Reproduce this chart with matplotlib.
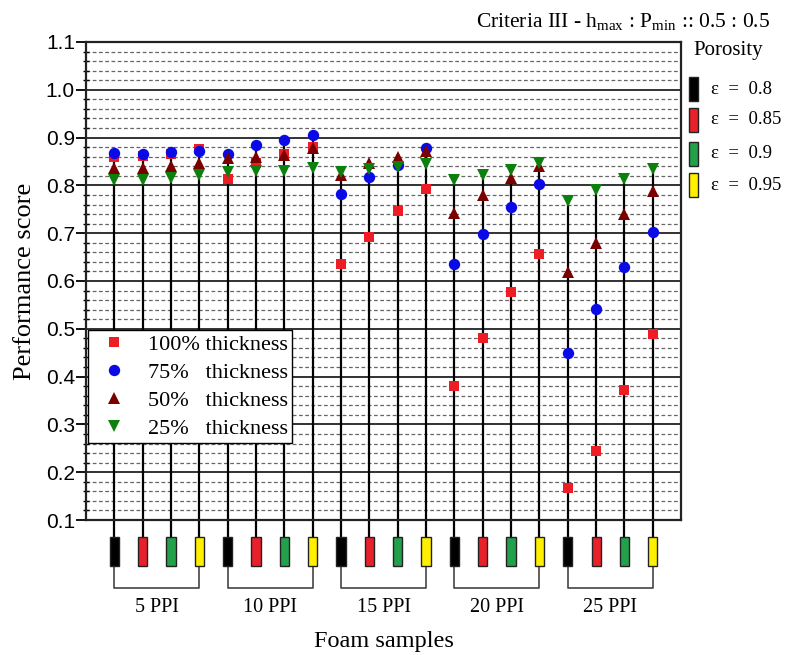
import matplotlib
matplotlib.use("Agg")
import matplotlib.pyplot as plt
import matplotlib.transforms as mtransforms
from matplotlib.patches import Rectangle
from matplotlib.lines import Line2D
from matplotlib.ticker import MultipleLocator

plt.rcParams['font.family'] = ['Liberation Serif', 'DejaVu Serif']
plt.rcParams['mathtext.fontset'] = 'custom'
plt.rcParams['mathtext.rm'] = 'Liberation Serif'
plt.rcParams['mathtext.it'] = 'Liberation Serif:italic'

# foam samples: 5 pore densities x 4 porosities
ppi_labels = ['5 PPI', '10 PPI', '15 PPI', '20 PPI', '25 PPI']
porosity_labels = ['ε  =  0.8', 'ε  =  0.85', 'ε  =  0.9', 'ε  =  0.95']
porosity_colors = ['#000000', '#e8202a', '#23a04a', '#fff000']

# performance score per sample, one list per thickness
t100 = [0.860, 0.862, 0.866, 0.877, 0.814, 0.846, 0.865, 0.881, 0.636, 0.693,
        0.747, 0.792, 0.381, 0.480, 0.576, 0.656, 0.166, 0.244, 0.372, 0.489]
t75 = [0.867, 0.866, 0.869, 0.871, 0.866, 0.885, 0.896, 0.905, 0.782, 0.818,
       0.843, 0.879, 0.636, 0.698, 0.755, 0.803, 0.449, 0.541, 0.630, 0.702]
t50 = [0.836, 0.837, 0.841, 0.846, 0.857, 0.860, 0.864, 0.878, 0.822, 0.846,
       0.860, 0.871, 0.742, 0.780, 0.815, 0.841, 0.618, 0.680, 0.740, 0.789]
t25 = [0.811, 0.812, 0.816, 0.821, 0.829, 0.831, 0.831, 0.836, 0.829, 0.834,
       0.838, 0.845, 0.811, 0.822, 0.832, 0.847, 0.767, 0.790, 0.813, 0.834]

series = [
    ('100% thickness', t100, 's', '#ee1c24', 7),
    ('75%   thickness', t75, 'o', '#0a0ae6', 8.2),
    ('50%   thickness', t50, '^', '#7a0000', 9),
    ('25%   thickness', t25, 'v', '#0c800c', 9),
]

xs = list(range(1, len(t100) + 1))

fig = plt.figure(figsize=(7.92, 6.55), dpi=100)
ax = fig.add_axes([0.1086, 0.2061, 0.7513, 0.7298])

ax.set_xlim(0, 21)
ax.set_ylim(0.1, 1.1)
ax.yaxis.set_major_locator(MultipleLocator(0.1))
ax.yaxis.set_minor_locator(MultipleLocator(0.02))
ax.grid(which='major', axis='y', color='#222222', lw=1.3, zorder=0)
ax.grid(which='minor', axis='y', color='#666666', ls=(0, (3, 2)), lw=0.9, zorder=0)
ax.set_axisbelow(True)

ax.set_xticks([])
ax.tick_params(axis='y', which='major', direction='out', length=7, width=1.3,
               labelsize=15, pad=1)
ax.tick_params(axis='y', which='minor', direction='inout', length=5, width=1.0)
for lab in ax.get_yticklabels():
    lab.set_family(['Liberation Sans', 'DejaVu Sans'])
for sp in ax.spines.values():
    sp.set_linewidth(1.6)
    sp.set_color('#222222')

# stems from the top marker down to the sample tags below the axis
trans = mtransforms.blended_transform_factory(ax.transData, ax.transAxes)
tag_top, tag_bot, brk_y = -0.036, -0.096, -0.142
for i, x in enumerate(xs):
    top = max(t100[i], t75[i], t50[i], t25[i])
    ytop = (top - 0.1) / 1.0
    ax.plot([x, x], [ytop, tag_top], transform=trans, color='black', lw=1.6,
            clip_on=False, zorder=2)
    ax.add_patch(Rectangle((x - 0.16, tag_bot), 0.32, tag_top - tag_bot,
                           transform=trans, facecolor=porosity_colors[i % 4],
                           edgecolor='#222222', lw=1.0, clip_on=False, zorder=3))

# brackets grouping each PPI
for g, lab in enumerate(ppi_labels):
    x0, x1 = xs[g * 4], xs[g * 4 + 3]
    ax.plot([x0, x0, x1, x1], [tag_bot, brk_y, brk_y, tag_bot], transform=trans,
            color='#444444', lw=1.2, clip_on=False)
    ax.text((x0 + x1) / 2, -0.183, lab, transform=trans, ha='center', va='center',
            fontsize=14.5)

for label, vals, mk, col, ms in series:
    ax.plot(xs, vals, ls='none', marker=mk, color=col, markersize=ms,
            markeredgewidth=0, label=label, zorder=4)

handles = [Line2D([], [], ls='none', marker=mk, color=col, markersize=ms,
                  markeredgewidth=0) for _, _, mk, col, ms in series]
leg = ax.legend(handles, [s[0] for s in series], loc='upper left',
                bbox_to_anchor=(0.003, 0.397), borderaxespad=0, fontsize=16,
                frameon=True, fancybox=False, framealpha=1, edgecolor='black',
                labelspacing=0.33, handletextpad=0.5, handlelength=2.0,
                borderpad=0.2)
leg.get_frame().set_linewidth(1.0)
leg.set_zorder(10)

ax.set_ylabel('Performance score', fontsize=19, va='center')
ax.yaxis.set_label_coords(-0.1025, 0.5)
ax.set_xlabel('Foam samples', fontsize=17.5, va='center')
ax.xaxis.set_label_coords(0.5, -0.255)

fig.text(770 / 792, 1 - 22 / 655,
         r'Criteria III - h$_{\rm max}$ : P$_{\rm min}$ :: 0.5 : 0.5',
         ha='right', va='center', fontsize=15.5)

# porosity key on the right
fig.text(693 / 792, 1 - 51 / 655, 'Porosity', ha='left', va='center', fontsize=15)
key_y = [89, 120, 154, 185]
for c, lab, y in zip(porosity_colors, porosity_labels, key_y):
    fig.patches.append(Rectangle((689 / 792, 1 - (y + 12) / 655), 9 / 792, 24 / 655,
                                 transform=fig.transFigure, facecolor=c,
                                 edgecolor='#222222', lw=1.0))
    fig.text(711 / 792, 1 - y / 655, lab, ha='left', va='center', fontsize=13.5)

fig.savefig('out.png', dpi=100)
